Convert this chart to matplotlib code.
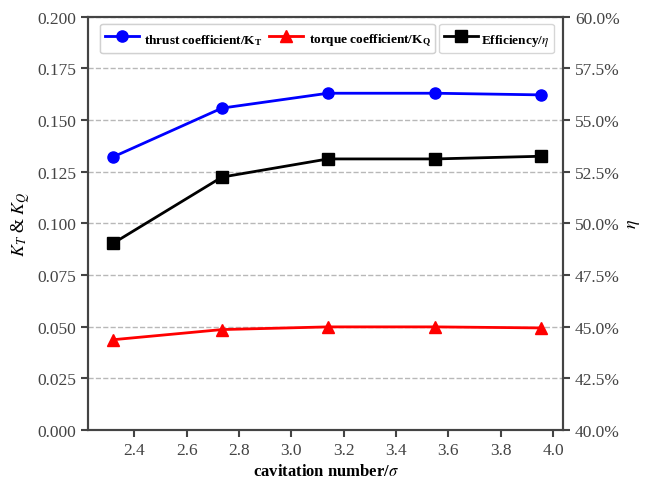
import numpy as np
import matplotlib.pyplot as plt
from matplotlib.ticker import PercentFormatter, MultipleLocator

plt.rcParams['font.family'] = ['Liberation Serif', 'DejaVu Serif']
plt.rcParams['mathtext.fontset'] = 'stix'

sigma = [2.32, 2.735, 3.14, 3.55, 3.955]
kt = [0.1322, 0.1558, 0.1630, 0.1630, 0.1622]
kq = [0.0437, 0.0486, 0.0499, 0.0499, 0.0494]
eta = [0.4904, 0.5224, 0.5312, 0.5312, 0.5325]

fig = plt.figure(figsize=(6.48, 4.81), dpi=100)
ax = fig.add_axes([0.136, 0.104, 0.733, 0.859])
ax2 = ax.twinx()

l1, = ax.plot(sigma, kt, color='blue', marker='o', ms=8, lw=2,
              label=r'thrust coefficient/K$\mathregular{_T}$')
l2, = ax.plot(sigma, kq, color='red', marker='^', ms=8, lw=2,
              label=r'torque coefficient/K$\mathregular{_Q}$')
l3, = ax2.plot(sigma, eta, color='black', marker='s', ms=8, lw=2,
               label=r'Efficiency/$\eta$')

ax.set_xlim(2.224, 4.038)
ax.set_ylim(0, 0.2)
ax2.set_ylim(0.4, 0.6)
ax.xaxis.set_major_locator(MultipleLocator(0.2))
ax.yaxis.set_major_locator(MultipleLocator(0.025))
ax2.yaxis.set_major_locator(MultipleLocator(0.025))
ax.yaxis.set_major_formatter(plt.FormatStrFormatter('%.3f'))
ax.xaxis.set_major_formatter(plt.FormatStrFormatter('%.1f'))
ax2.yaxis.set_major_formatter(PercentFormatter(xmax=1, decimals=1))

ax.yaxis.grid(True, ls='--', color='#b8b8b8', lw=1)
ax.set_axisbelow(True)

for a in (ax, ax2):
    a.tick_params(labelsize=12.5, colors='#444444', width=1.5, length=5)
    for sp in a.spines.values():
        sp.set_color('#444444')
        sp.set_linewidth(1.5)

ax.set_xlabel(r'cavitation number/$\sigma$', fontsize=12, fontweight='bold')
ax.set_ylabel(r'$K_T$ & $K_Q$', fontsize=13)
ax2.set_ylabel(r'$\eta$', fontsize=13)

leg_font = {'weight': 'bold', 'size': 9.5}
leg_kw = dict(borderaxespad=0, prop=leg_font, handlelength=2.6,
              handleheight=2.0, borderpad=0.35)
leg1 = ax.legend(handles=[l1, l2], ncol=2, loc='upper left',
                 bbox_to_anchor=(0.025, 0.983), columnspacing=0.5,
                 handletextpad=0.4, **leg_kw)
ax.add_artist(leg1)
leg2 = ax2.legend(handles=[l3], loc='upper right',
                  bbox_to_anchor=(0.981, 0.983), handletextpad=0.25, **leg_kw)

fig.savefig('out.png', dpi=100)
